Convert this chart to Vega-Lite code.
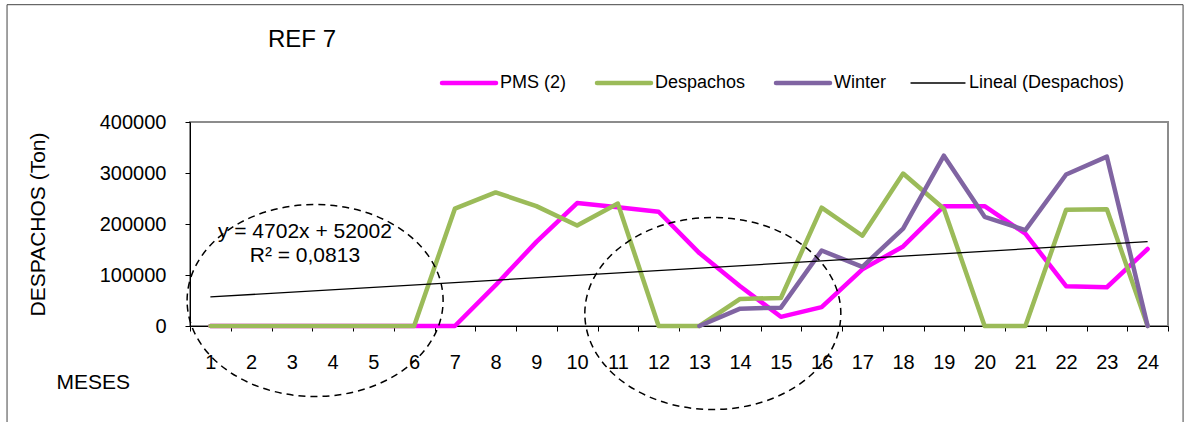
{
  "$schema": "https://vega.github.io/schema/vega-lite/v6.json",
  "width": 978,
  "height": 204,
  "autosize": {"type": "none"},
  "padding": {"left": 190, "top": 122, "right": 21, "bottom": 96},
  "background": "white",
  "title": {
    "text": "REF 7",
    "anchor": "start",
    "frame": "group",
    "dx": 78,
    "offset": -67,
    "baseline": "alphabetic",
    "fontSize": 24,
    "font": "Liberation Sans",
    "fontWeight": "normal",
    "color": "black"
  },
  "config": {
    "font": "Liberation Sans",
    "view": {"stroke": "#8c8c8c", "strokeWidth": 2},
    "axis": {
      "domainColor": "black",
      "tickColor": "black",
      "labelColor": "black",
      "titleColor": "black",
      "labelFont": "Liberation Sans",
      "titleFont": "Liberation Sans",
      "titleFontWeight": "normal",
      "grid": false
    }
  },
  "data": {
    "values": [
      {"mes": 1, "serie": "PMS (2)", "valor": 0},
      {"mes": 2, "serie": "PMS (2)", "valor": 0},
      {"mes": 3, "serie": "PMS (2)", "valor": 0},
      {"mes": 4, "serie": "PMS (2)", "valor": 0},
      {"mes": 5, "serie": "PMS (2)", "valor": 0},
      {"mes": 6, "serie": "PMS (2)", "valor": 0},
      {"mes": 7, "serie": "PMS (2)", "valor": 0},
      {"mes": 8, "serie": "PMS (2)", "valor": 80000},
      {"mes": 9, "serie": "PMS (2)", "valor": 165000},
      {"mes": 10, "serie": "PMS (2)", "valor": 241000},
      {"mes": 11, "serie": "PMS (2)", "valor": 233000},
      {"mes": 12, "serie": "PMS (2)", "valor": 224000},
      {"mes": 13, "serie": "PMS (2)", "valor": 143000},
      {"mes": 14, "serie": "PMS (2)", "valor": 78000},
      {"mes": 15, "serie": "PMS (2)", "valor": 18000},
      {"mes": 16, "serie": "PMS (2)", "valor": 37000},
      {"mes": 17, "serie": "PMS (2)", "valor": 111000},
      {"mes": 18, "serie": "PMS (2)", "valor": 156000},
      {"mes": 19, "serie": "PMS (2)", "valor": 235000},
      {"mes": 20, "serie": "PMS (2)", "valor": 235000},
      {"mes": 21, "serie": "PMS (2)", "valor": 181000},
      {"mes": 22, "serie": "PMS (2)", "valor": 78000},
      {"mes": 23, "serie": "PMS (2)", "valor": 76000},
      {"mes": 24, "serie": "PMS (2)", "valor": 151000},
      {"mes": 1, "serie": "Despachos", "valor": 0},
      {"mes": 2, "serie": "Despachos", "valor": 0},
      {"mes": 3, "serie": "Despachos", "valor": 0},
      {"mes": 4, "serie": "Despachos", "valor": 0},
      {"mes": 5, "serie": "Despachos", "valor": 0},
      {"mes": 6, "serie": "Despachos", "valor": 0},
      {"mes": 7, "serie": "Despachos", "valor": 230000},
      {"mes": 8, "serie": "Despachos", "valor": 262000},
      {"mes": 9, "serie": "Despachos", "valor": 235000},
      {"mes": 10, "serie": "Despachos", "valor": 197000},
      {"mes": 11, "serie": "Despachos", "valor": 240000},
      {"mes": 12, "serie": "Despachos", "valor": 0},
      {"mes": 13, "serie": "Despachos", "valor": 0},
      {"mes": 14, "serie": "Despachos", "valor": 53000},
      {"mes": 15, "serie": "Despachos", "valor": 55000},
      {"mes": 16, "serie": "Despachos", "valor": 232000},
      {"mes": 17, "serie": "Despachos", "valor": 177000},
      {"mes": 18, "serie": "Despachos", "valor": 299000},
      {"mes": 19, "serie": "Despachos", "valor": 230000},
      {"mes": 20, "serie": "Despachos", "valor": 0},
      {"mes": 21, "serie": "Despachos", "valor": 0},
      {"mes": 22, "serie": "Despachos", "valor": 228000},
      {"mes": 23, "serie": "Despachos", "valor": 229000},
      {"mes": 24, "serie": "Despachos", "valor": 0},
      {"mes": 13, "serie": "Winter", "valor": 0},
      {"mes": 14, "serie": "Winter", "valor": 34000},
      {"mes": 15, "serie": "Winter", "valor": 36000},
      {"mes": 16, "serie": "Winter", "valor": 148000},
      {"mes": 17, "serie": "Winter", "valor": 116000},
      {"mes": 18, "serie": "Winter", "valor": 191000},
      {"mes": 19, "serie": "Winter", "valor": 334000},
      {"mes": 20, "serie": "Winter", "valor": 214000},
      {"mes": 21, "serie": "Winter", "valor": 188000},
      {"mes": 22, "serie": "Winter", "valor": 297000},
      {"mes": 23, "serie": "Winter", "valor": 332000},
      {"mes": 24, "serie": "Winter", "valor": 0}
    ]
  },
  "layer": [
    {
      "data": {"values": [{}]},
      "mark": {"type": "rect", "fill": null, "stroke": "#444444", "strokeWidth": 1, "clip": false},
      "encoding": {
        "x": {"datum": -3.99, "type": "quantitative"},
        "x2": {"datum": 24.87},
        "y": {"datum": 630000, "type": "quantitative"},
        "y2": {"datum": -220000}
      }
    },
    {
      "mark": {"type": "line", "strokeWidth": 4.5, "strokeJoin": "round", "strokeCap": "round"},
      "encoding": {
        "x": {
          "field": "mes",
          "type": "quantitative",
          "scale": {"domain": [0.5, 24.5], "nice": false, "zero": false},
          "axis": {
            "title": "MESES",
            "titleFontSize": 21,
            "titleAnchor": "start",
            "titleAlign": "left",
            "titleBaseline": "alphabetic",
            "titleX": -134,
            "titleY": 62,
            "values": [0.5, 1.5, 2.5, 3.5, 4.5, 5.5, 6.5, 7.5, 8.5, 9.5, 10.5, 11.5, 12.5, 13.5, 14.5, 15.5, 16.5, 17.5, 18.5, 19.5, 20.5, 21.5, 22.5, 23.5, 24.5],
            "labelExpr": "datum.value < 24 ? format(datum.value + 0.5, 'd') : ''",
            "labelOffset": 20.375,
            "labelAlign": "center",
            "labelBaseline": "alphabetic",
            "labelFontSize": 20,
            "labelPadding": 37,
            "labelFlush": false,
            "labelOverlap": false,
            "labelBound": false,
            "tickSize": 5
          }
        },
        "y": {
          "field": "valor",
          "type": "quantitative",
          "scale": {"domain": [0, 400000], "nice": false},
          "axis": {
            "title": "DESPACHOS (Ton)",
            "titleFontSize": 21,
            "titleAngle": -90,
            "titleAlign": "center",
            "titleBaseline": "alphabetic",
            "titleX": -146,
            "titleY": 102,
            "values": [0, 50000, 100000, 150000, 200000, 250000, 300000, 350000, 400000],
            "format": "d",
            "labelFontSize": 20,
            "labelBaseline": "middle",
            "labelPadding": 19,
            "tickSize": 5
          }
        },
        "color": {
          "field": "serie",
          "type": "nominal",
          "scale": {
            "domain": ["PMS (2)", "Despachos", "Winter", "Lineal (Despachos)"],
            "range": ["#FF00FF", "#9BBB59", "#8064A2", "#000000"]
          },
          "legend": {
            "title": null,
            "orient": "none",
            "direction": "horizontal",
            "legendX": 252,
            "legendY": -48,
            "symbolType": "stroke",
            "symbolSize": 2916,
            "symbolStrokeWidth": 4,
            "symbolOffset": 18,
            "labelFontSize": 18,
            "labelFont": "Liberation Sans",
            "labelColor": "black",
            "labelOffset": 22,
            "columnPadding": 21,
            "padding": 0,
            "labelLimit": 300,
            "encode": {
              "symbols": {
                "update": {
                  "strokeWidth": {"signal": "datum.value === 'Lineal (Despachos)' ? 1.3 : 4.5"},
                  "strokeCap": {"value": "round"}
                }
              }
            }
          }
        }
      }
    },
    {
      "transform": [
        {"filter": "datum.serie === 'Despachos'"},
        {"regression": "valor", "on": "mes", "method": "linear"}
      ],
      "mark": {"type": "line", "strokeWidth": 1.3},
      "encoding": {
        "x": {"field": "mes", "type": "quantitative"},
        "y": {"field": "valor", "type": "quantitative"},
        "color": {"datum": "Lineal (Despachos)"}
      }
    },
    {
      "data": {"values": [{}]},
      "mark": {"type": "text", "text": "y = 4702x + 52002", "fontSize": 21, "align": "center", "baseline": "alphabetic", "color": "black"},
      "encoding": {
        "x": {"datum": 3.32, "type": "quantitative"},
        "y": {"datum": 173000, "type": "quantitative"}
      }
    },
    {
      "data": {"values": [{}]},
      "mark": {"type": "text", "text": "R² = 0,0813", "fontSize": 21, "align": "center", "baseline": "alphabetic", "color": "black"},
      "encoding": {
        "x": {"datum": 3.32, "type": "quantitative"},
        "y": {"datum": 125000, "type": "quantitative"}
      }
    },
    {
      "data": {"values": [{}]},
      "mark": {
        "type": "point",
        "shape": "M -1 0 C -1 -0.4142 -0.5523 -0.75 0 -0.75 C 0.5523 -0.75 1 -0.4142 1 0 C 1 0.4142 0.5523 0.75 0 0.75 C -0.5523 0.75 -1 0.4142 -1 0 Z",
        "size": 65536,
        "filled": false,
        "opacity": 1,
        "stroke": "black",
        "strokeWidth": 1.5,
        "strokeDash": [7, 5]
      },
      "encoding": {
        "x": {"datum": 3.57, "type": "quantitative"},
        "y": {"datum": 50000, "type": "quantitative"}
      }
    },
    {
      "data": {"values": [{}]},
      "mark": {
        "type": "point",
        "shape": "M -1 0 C -1 -0.4142 -0.5523 -0.75 0 -0.75 C 0.5523 -0.75 1 -0.4142 1 0 C 1 0.4142 0.5523 0.75 0 0.75 C -0.5523 0.75 -1 0.4142 -1 0 Z",
        "size": 65536,
        "filled": false,
        "opacity": 1,
        "stroke": "black",
        "strokeWidth": 1.5,
        "strokeDash": [7, 5]
      },
      "encoding": {
        "x": {"datum": 13.33, "type": "quantitative"},
        "y": {"datum": 24500, "type": "quantitative"}
      }
    }
  ]
}
